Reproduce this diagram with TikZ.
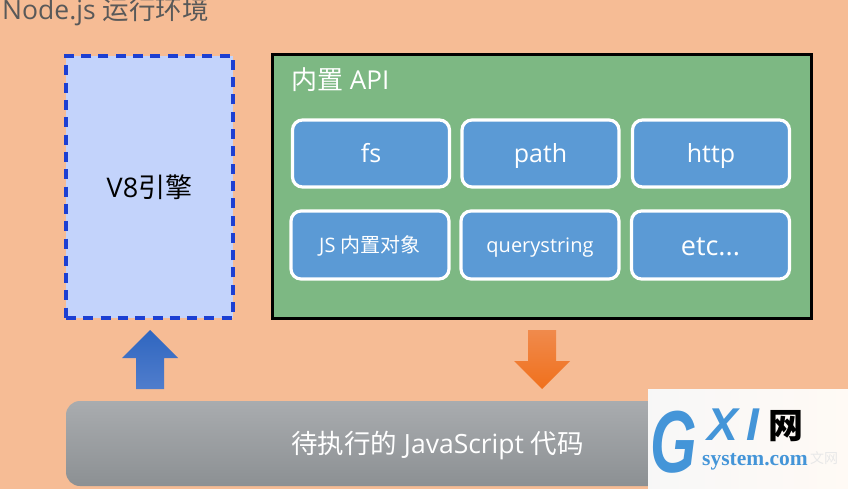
\documentclass[tikz,border=0pt]{standalone}
\usepackage{fontspec}
\setmainfont{Open Sans}
\newfontfamily\cjk{Noto Sans CJK SC}
\newfontfamily\markfont{Liberation Sans}
\newfontfamily\markserif{Liberation Serif}
\definecolor{pagebg}{HTML}{F6BC95}
\definecolor{apigreen}{HTML}{7DB883}
\definecolor{modblue}{HTML}{5B9AD5}
\definecolor{enginebg}{HTML}{C3D3FB}
\definecolor{engineline}{HTML}{1C3FD2}
\definecolor{markblue}{HTML}{4495D8}
\tikzset{
    modbox/.style={draw=white,line width=3.2pt,rounded corners=10pt,fill=modblue,text=white,minimum width=157pt,minimum height=67pt,inner sep=0pt,text depth=0pt,text height=#1},
    bigrow/.style={minimum width=158pt,minimum height=68pt},
}
\begin{document}
\begin{tikzpicture}[x=1pt,y=-1pt]
    \useasboundingbox(0,0)rectangle(848,489);
    \clip(0,0)rectangle(848,489);
    \fill[pagebg](0,0)rectangle(848,489);
    \node[anchor=base west,inner sep=0pt,text=black!65,font=\fontsize{26.5}{26.5}\selectfont](title)at(2,20){Node.js {\cjk 运行环境}};
    % left box
    \node[draw=engineline,line width=3.2pt,dash pattern=on 10pt off 7.3pt,fill=enginebg,minimum width=167pt,minimum height=262pt,inner sep=0pt,font=\fontsize{27}{27}\selectfont](engine)at(149.5,187){V8{\cjk 引擎}};
    % right box
    \node[draw=black,line width=3pt,fill=apigreen,minimum width=539pt,minimum height=263pt,inner sep=0pt](api)at(541.5,186.5){};
    \node[anchor=base west,inner sep=0pt,text=white,font=\fontsize{26}{26}\selectfont](apititle)at(291,90){{\cjk 内置} API};
    \node[modbox=19pt,font=\fontsize{25}{25}\selectfont](fs)at(371,153.5){fs};
    \node[modbox=19pt,font=\fontsize{25}{25}\selectfont](path)at(540.5,153.5){path};
    \node[modbox=19pt,font=\fontsize{25}{25}\selectfont](http)at(711,153.5){http};
    \node[modbox=14pt,bigrow,font=\fontsize{20}{20}\selectfont](jsobj)at(370,245){JS {\cjk 内置对象}};
    \node[modbox=14pt,bigrow,font=\fontsize{20}{20}\selectfont](query)at(540,245){querystring};
    \node[modbox=21pt,bigrow,font=\fontsize{27}{27}\selectfont](etc)at(710.5,245){etc...};
    % block arrows
    \shade[top color={rgb,255:red,47;green,102;blue,192},bottom color={rgb,255:red,80;green,125;blue,204}](150,330)--(178,358)--(164,358)--(164,389)--(136,389)--(136,358)--(122,358)--cycle;
    \shade[top color={rgb,255:red,240;green,138;blue,76},bottom color={rgb,255:red,240;green,112;blue,28}](528,330)--(556,330)--(556,361)--(570,361)--(542,389)--(514,361)--(528,361)--cycle;
    % code bar
    \shade[rounded corners=14pt,top color={rgb,255:red,169;green,172;blue,175},bottom color={rgb,255:red,140;green,144;blue,147}](66,401)rectangle(811,486);
    \node[text=white,inner sep=0pt,font=\fontsize{26.5}{26.5}\selectfont](code)at(437.5,445){{\cjk 待执行的} JavaScript {\cjk 代码}};
    % watermark
    \fill[left color=black!3,right color=orange!4!white](648,389)rectangle(848,489);
    \node[anchor=base west,inner sep=0pt,text=markblue,xscale=.68,font=\markfont\bfseries\itshape\fontsize{88}{88}\selectfont](markg)at(650,472){G};
    \node[anchor=base west,inner sep=0pt,text=markblue,font=\markfont\bfseries\itshape\fontsize{46}{46}\selectfont](markx)at(707,440){X};
    \node[anchor=base west,inner sep=0pt,text=markblue,font=\markfont\bfseries\itshape\fontsize{46}{46}\selectfont](marki)at(746,440){I};
    \node[anchor=base west,inner sep=0pt,text=black,font=\cjk\bfseries\fontsize{35}{35}\selectfont](markwang)at(768,438){网};
    \node[anchor=base west,inner sep=0pt,text=markblue,font=\markserif\bfseries\fontsize{21.5}{21.5}\selectfont](marksite)at(702,465){system.com};
    \node[anchor=base west,inner sep=0pt,text=black!9,font=\cjk\fontsize{14}{14}\selectfont](markfaint)at(810,463){文网};
\end{tikzpicture}
\end{document}
